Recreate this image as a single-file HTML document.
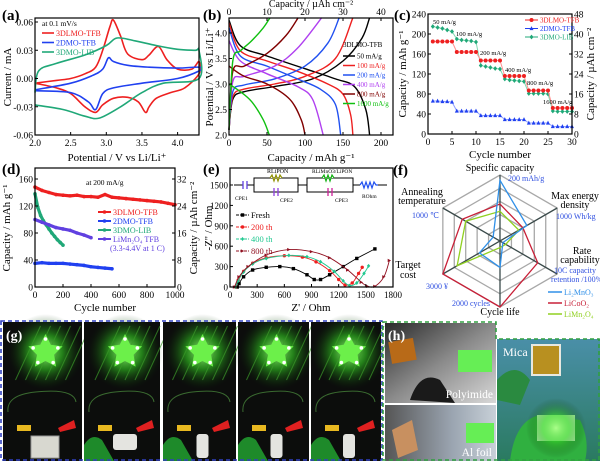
<!DOCTYPE html>
<html><head><meta charset="utf-8"><style>
html,body{margin:0;padding:0;background:#fff;}
svg{display:block;font-family:"Liberation Serif",serif;}
</style></head><body>
<svg id="fig" width="600" height="461" viewBox="0 0 600 461" xmlns="http://www.w3.org/2000/svg">
<defs>
<radialGradient id="glow" cx="50%" cy="50%" r="50%"><stop offset="0" stop-color="#aaff88" stop-opacity="0.95"/><stop offset="0.45" stop-color="#33cc22" stop-opacity="0.6"/><stop offset="1" stop-color="#0a2a08" stop-opacity="0"/></radialGradient>
<linearGradient id="grayph" x1="0" y1="0" x2="1" y2="1"><stop offset="0" stop-color="#2a2a2a"/><stop offset="0.5" stop-color="#8a8a8a"/><stop offset="1" stop-color="#d8d8d8"/></linearGradient>
<linearGradient id="grayph2" x1="0" y1="0" x2="1" y2="0"><stop offset="0" stop-color="#555"/><stop offset="0.6" stop-color="#9aa4b0"/><stop offset="1" stop-color="#c8d0d8"/></linearGradient>
<linearGradient id="micaph" x1="0" y1="0" x2="0" y2="1"><stop offset="0" stop-color="#4a8fa8"/><stop offset="1" stop-color="#2a7a60"/></linearGradient>
</defs>
</svg>
<script>
// ---------- DATA ----------
// (a) CV
const cvRedV=[2.0,2.3,2.5,2.7,2.85,2.95,3.05,3.1,3.2,3.3,3.5,3.6,3.73,3.85,4.0,4.2,4.3];
const cvRedI=[-0.005,-0.002,0.0,0.005,0.012,0.03,0.055,0.062,0.045,0.026,0.02,0.025,0.034,0.02,0.01,0.01,0.018];
const cvRedRV=[4.3,4.1,3.9,3.7,3.6,3.55,3.45,3.3,3.1,2.95,2.85,2.7,2.5,2.3,2.0];
const cvRedRI=[0.005,-0.01,-0.015,-0.021,-0.03,-0.036,-0.025,-0.02,-0.021,-0.028,-0.036,-0.03,-0.016,-0.01,-0.005];
const cvBlueV=[2.0,2.5,2.8,2.95,3.03,3.1,3.3,3.6,4.0,4.3];
const cvBlueI=[-0.012,-0.005,0.003,0.01,0.022,0.018,0.014,0.012,0.011,0.012];
const cvBlueRV=[4.3,4.0,3.5,3.1,2.95,2.85,2.75,2.5,2.0];
const cvBlueRI=[0.008,0.0,-0.005,-0.01,-0.016,-0.033,-0.025,-0.015,-0.013];
const cvGreenV=[2.0,2.05,2.3,2.7,3.0,3.15,3.4,3.7,4.0,4.25,4.3];
const cvGreenI=[-0.015,0.008,0.016,0.025,0.035,0.043,0.04,0.035,0.031,0.03,0.03];
const cvGreenRV=[4.3,3.8,3.5,3.2,2.9,2.7,2.4,2.0];
const cvGreenRI=[0.0,-0.005,-0.015,-0.03,-0.042,-0.04,-0.033,-0.028];
// (b) charge / discharge
const rateLabels=["50 mA/g","100 mA/g","200 mA/g","400 mA/g","800 mA/g","1600 mA/g"];
const disCap=[[0,15,50,100,140,165,180,185],[0,15,50,90,130,150,160,163],[0,15,50,90,120,140,147],[0,15,50,90,110,124],[0,20,50,80,95,100],[0,15,30,45,53]];
const disV=[[4.25,3.75,3.55,3.3,3.1,2.95,2.5,2.0],[4.2,3.65,3.45,3.25,3.0,2.8,2.4,2.0],[4.1,3.55,3.35,3.1,2.9,2.6,2.0],[3.85,3.45,3.2,2.95,2.7,2.0],[3.35,3.15,3.0,2.7,2.3,2.0],[3.0,2.85,2.65,2.3,2.0]];
const chgCap=[[0,5,20,60,110,150,175,185],[0,5,20,60,100,140,163],[0,5,20,60,100,130,145],[0,5,20,60,90,122],[0,5,20,50,75,91],[0,5,15,30,45,54]];
const chgV=[[2.1,2.7,2.85,2.95,3.1,3.45,3.9,4.3],[2.1,2.75,2.9,3.0,3.15,3.5,4.3],[2.1,2.85,2.98,3.1,3.35,3.8,4.3],[2.1,3.05,3.15,3.35,3.7,4.3],[2.1,3.25,3.35,3.6,3.95,4.3],[2.1,3.45,3.65,3.85,4.1,4.3]];
// (c) rate
const rateCycles=[1,2,3,4,5,6,7,8,9,10,11,12,13,14,15,16,17,18,19,20,21,22,23,24,25,26,27,28,29,30];
const rate3DLMO=[185,185,185,185,185,164,164,164,164,164,147,147,147,147,147,116,116,116,116,116,87,87,87,87,87,52,52,52,52,52];
const rate2DMO=[66,66,65,65,64,46,46,46,46,46,37,37,37,37,37,29,29,29,29,29,22,22,22,22,22,15,15,15,15,15];
const rate3DMO=[215,213,211,208,205,190,188,187,186,184,137,135,133,131,130,110,108,107,106,105,81,81,81,81,80,46,45,45,45,45];
const rateNotes=["50 mA/g","100 mA/g","200 mA/g","400 mA/g","800 mA/g","1600 mA/g"];
// (d) cycling
const cycRedX=[0,50,100,150,200,250,300,350,400,450,500,550,600,650,700,750,800,850,900,950,1000];
const cycRedY=[148,143,140,137,136,135,136,134,134,133,137,133,132,131,130,129,128,127,126,124,122];
const cycBlueX=[0,50,100,150,200,250,300,350,400,450,500,550];
const cycBlueY=[35,36,35,35,35,34,33,32,30,29,28,27];
const cycGreenX=[0,20,40,60,80,100,120,140,160,180,200];
const cycGreenY=[138,118,106,98,92,86,80,75,70,66,62];
const cycVioX=[0,50,100,150,200,250,300,350,400];
const cycVioY=[100,96,92,88,86,84,80,77,73];
// (e) EIS
const eisFreshX=[80,100,150,250,400,550,700,850,930,1000,1100,1250,1400,1600];
const eisFreshY=[0,50,150,250,290,300,270,180,110,110,180,300,420,560];
const eis200X=[60,90,150,250,400,600,800,950,1100,1200,1270,1350,1420,1460];
const eis200Y=[0,100,230,350,430,460,440,370,240,110,30,60,200,290];
const eis400X=[60,90,150,250,400,650,850,1000,1150,1250,1320,1400,1480,1530];
const eis400Y=[0,90,220,340,420,465,445,370,230,90,20,60,200,310];
const eis800X=[50,100,200,400,650,900,1100,1300,1450,1520,1600,1700,1760];
const eis800Y=[0,150,300,470,550,520,430,250,70,10,10,150,390];
// (f) radar
const radarAxes=["Specific capacity","Max energy density","Rate capability","Cycle life","Target cost","Annealing temperature"];
const radarLi2MnO3=[0.92,0.47,0.05,0.4,0.36,0.12];
const radarLiCoO2=[0.56,0.4,0.66,1.0,1.0,0.66];
const radarLiMn2O4=[0.45,0.33,0.1,0.1,0.75,0.6];

// ---------- HELPERS ----------
const NS='http://www.w3.org/2000/svg';
const svg=document.getElementById('fig');
function el(tag,attrs,name,parent){
  const e=document.createElementNS(NS,tag);
  for(const k in attrs)e.setAttribute(k,attrs[k]);
  
  
  (parent||svg).appendChild(e);return e;
}
function txt(x,y,s,size,name,opt){
  opt=opt||{};
  const t=el('text',{x:x,y:y,'font-size':size,fill:opt.fill||'#000','text-anchor':opt.anchor||'start','font-weight':opt.bold?'bold':'normal'},name,opt.parent);
  if(opt.rot!==undefined)t.setAttribute('transform','rotate('+opt.rot+' '+x+' '+y+')');
  t.textContent=s;return t;
}
function sc(d0,d1,r0,r1){return v=>r0+(v-d0)*(r1-r0)/(d1-d0);}
function smooth(p){
  let d='M'+p[0][0].toFixed(1)+','+p[0][1].toFixed(1);
  for(let i=0;i<p.length-1;i++){
    const p0=p[i-1]||p[i],p1=p[i],p2=p[i+1],p3=p[i+2]||p2;
    const c1=[p1[0]+(p2[0]-p0[0])/6,p1[1]+(p2[1]-p0[1])/6],c2=[p2[0]-(p3[0]-p1[0])/6,p2[1]-(p3[1]-p1[1])/6];
    d+=' C'+c1[0].toFixed(1)+','+c1[1].toFixed(1)+' '+c2[0].toFixed(1)+','+c2[1].toFixed(1)+' '+p2[0].toFixed(1)+','+p2[1].toFixed(1);
  }
  return d;
}
function frame(x0,y0,x1,y1,name){el('rect',{x:x0,y:y0,width:x1-x0,height:y1-y0,fill:'none',stroke:'#000','stroke-width':1.2},name);}
function xTicks(vals,sx,y,labels,dir,name,fs){vals.forEach((v,i)=>{el('line',{x1:sx(v),x2:sx(v),y1:y,y2:y+dir*3,stroke:'#000','stroke-width':1},name+'-tick');txt(sx(v),dir<0?y+11:y-4,labels[i],fs||9.5,name+'-label',{anchor:'middle'});});}
function yTicks(vals,sy,x,labels,dir,name,fs){vals.forEach((v,i)=>{el('line',{x1:x,x2:x+dir*3,y1:sy(v),y2:sy(v),stroke:'#000','stroke-width':1},name+'-tick');txt(dir>0?x-2:x+2,sy(v)+3.5,labels[i],fs||9.5,name+'-label',{anchor:dir>0?'end':'start'});});}
function marker(type,x,y,c,s,name){
  if(type==='c')el('circle',{cx:x,cy:y,r:s,fill:c},name);
  else if(type==='t')el('polygon',{points:`${x},${y-s*1.2} ${x-s},${y+s*0.8} ${x+s},${y+s*0.8}`,fill:c},name);
  else if(type==='d')el('polygon',{points:`${x},${y-s*1.2} ${x+s},${y} ${x},${y+s*1.2} ${x-s},${y}`,fill:c},name);
  else if(type==='s')el('rect',{x:x-s,y:y-s,width:2*s,height:2*s,fill:c},name);
  else if(type==='r')el('polygon',{points:`${x-s},${y-s} ${x+s},${y} ${x-s},${y+s}`,fill:c},name);
}

// ---------- PANEL A ----------
(function(){
  const sx=sc(2.0,4.3,35,199),sy=sc(-0.06,0.06,135,22);
  txt(2,20,'(a)',15,'panel-a-label',{bold:true});
  const series=[[cvRedV,cvRedI,cvRedRV,cvRedRI,'#ee2020','cv-3dlmo-tfb'],[cvBlueV,cvBlueI,cvBlueRV,cvBlueRI,'#2040f0','cv-2dmo-tfb'],[cvGreenV,cvGreenI,cvGreenRV,cvGreenRI,'#20a878','cv-3dmo-lib']];
  series.forEach(s=>{
    const pts=s[0].map((v,i)=>[sx(v),sy(s[1][i])]).concat(s[2].map((v,i)=>[sx(v),sy(s[3][i])]));
    el('path',{d:smooth(pts),fill:'none',stroke:s[4],'stroke-width':1.6},s[5]);
  });
  frame(35,18,199,135,'panel-a-frame');
  xTicks([2.0,2.5,3.0,3.5,4.0],sx,135,['2.0','2.5','3.0','3.5','4.0'],-1,'a-x');
  yTicks([0.06,0.03,0,-0.03,-0.06],sy,35,['0.06','0.03','0.00','-0.03','-0.06'],1,'a-y');
  txt(117,161,'Potential / V vs Li/Li⁺',11,'a-x-title',{anchor:'middle'});
  txt(11,77,'Current / mA',11,'a-y-title',{anchor:'middle',rot:-90});
  txt(42,26,'at 0.1 mV/s',7.5,'a-scan-rate-note');
  [['3DLMO-TFB','#ee2020'],['2DMO-TFB','#2040f0'],['3DMO-LIB','#20a878']].forEach((l,i)=>{
    el('line',{x1:42,x2:54,y1:33+i*9.5,y2:33+i*9.5,stroke:l[1],'stroke-width':1.6},'a-legend-line');
    txt(56,36+i*9.5,l[0],8,'a-legend-entry',{fill:l[1]});
  });
})();

// ---------- PANEL B ----------
(function(){
  const sx=sc(0,50,229,267),sy=sc(2.0,4.0,135,33);
  const cols=['#000','#ee2020','#2050f0','#b040f0','#800000','#10c010'];
  txt(203,20,'(b)',15,'panel-b-label',{bold:true});
  for(let r=0;r<6;r++){
    el('path',{d:smooth(disCap[r].map((c,i)=>[sx(c),sy(disV[r][i])])),fill:'none',stroke:cols[r],'stroke-width':1.4},'discharge-curve');
    el('path',{d:smooth(chgCap[r].map((c,i)=>[sx(c),sy(chgV[r][i])])),fill:'none',stroke:cols[r],'stroke-width':1.4},'charge-curve');
  }
  frame(229,18,393,135,'panel-b-frame');
  xTicks([0,50,100,150,200],sx,135,['0','50','100','150','200'],-1,'b-x');
  yTicks([2.0,2.5,3.0,3.5,4.0],sy,229,['2.0','2.5','3.0','3.5','4.0'],1,'b-y');
  const sxt=sc(0,10,229,267);
  [0,10,20,30,40].forEach(v=>{el('line',{x1:sxt(v),x2:sxt(v),y1:18,y2:21,stroke:'#000'},'b-top-tick');txt(sxt(v),15,String(v),9.5,'b-top-label',{anchor:'middle'});});
  txt(311,7,'Capacity / µAh cm⁻²',10,'b-top-title',{anchor:'middle'});
  txt(311,161,'Capacity / mAh g⁻¹',11,'b-x-title',{anchor:'middle'});
  txt(213,77,'Potential / V vs Li/Li⁺',11,'b-y-title',{anchor:'middle',rot:-90});
  txt(343,47,'3DLMO-TFB',7,'b-legend-title');
  rateLabels.forEach((l,i)=>{
    el('line',{x1:343,x2:355,y1:56+i*9.5,y2:56+i*9.5,stroke:cols[i],'stroke-width':1.5},'b-legend-line');
    txt(357,58.5+i*9.5,l,7,'b-legend-entry',{fill:cols[i]});
  });
})();

// ---------- PANEL C ----------
(function(){
  const sx=sc(0,30,428,572),sy=sc(0,240,134,14);
  txt(394,20,'(c)',15,'panel-c-label',{bold:true});
  const ser=[[rate3DMO,'#20a878','d','rate-3dmo-lib','#80d8b0'],[rate3DLMO,'#ee2020','c','rate-3dlmo-tfb','#ff9090'],[rate2DMO,'#2040f0','t','rate-2dmo-tfb','#90a0ff']];
  ser.forEach(s=>{
    el('polyline',{points:rateCycles.map((c,i)=>sx(c)+','+sy(s[0][i])).join(' '),fill:'none',stroke:s[4],'stroke-width':1},s[3]+'-line');
    rateCycles.forEach((c,i)=>marker(s[2],sx(c),sy(s[0][i]),s[1],2,s[3]+'-point'));
  });
  frame(428,14,572,134,'panel-c-frame');
  xTicks([0,5,10,15,20,25,30],sx,134,['0','5','10','15','20','25','30'],-1,'c-x');
  yTicks([0,40,80,120,160,200,240],sy,428,['0','40','80','120','160','200','240'],1,'c-y');
  const syr=sc(0,48,134,14);
  yTicks([0,8,16,24,32,40,48],syr,572,['0','8','16','24','32','40','48'],-1,'c-y-right');
  txt(500,158,'Cycle number',11,'c-x-title',{anchor:'middle'});
  txt(406,74,'Capacity / mAh g⁻¹',11,'c-y-title',{anchor:'middle',rot:-90});
  txt(594,74,'Capacity / µAh cm⁻²',11,'c-y-right-title',{anchor:'middle',rot:-90});
  const nx=[[433,24],[456,36],[480,55],[505,72],[527,85],[543,104]];
  rateNotes.forEach((n,i)=>txt(nx[i][0],nx[i][1],n,6.5,'c-rate-annotation'));
  [['3DLMO-TFB','#ee2020','c'],['2DMO-TFB','#2040f0','t'],['3DMO-LIB','#20a878','d']].forEach((l,i)=>{
    el('line',{x1:525,x2:538,y1:20+i*8.5,y2:20+i*8.5,stroke:l[1],'stroke-width':1},'c-legend-line');
    marker(l[2],531.5,20+i*8.5,l[1],2,'c-legend-marker');
    txt(540,22.5+i*8.5,l[0],7,'c-legend-entry',{fill:l[1]});
  });
})();

// ---------- PANEL D ----------
(function(){
  const sx=sc(0,1000,35,175),sy=sc(0,160,287,179);
  txt(2,174,'(d)',15,'panel-d-label',{bold:true});
  const ser=[[cycRedX,cycRedY,'#ee2020','cycling-3dlmo-tfb'],[cycBlueX,cycBlueY,'#2040f0','cycling-2dmo-tfb'],[cycGreenX,cycGreenY,'#20a878','cycling-3dmo-lib'],[cycVioX,cycVioY,'#6040e0','cycling-limn2o4-tfb']];
  ser.forEach(s=>{
    el('polyline',{points:s[0].map((c,i)=>sx(c)+','+sy(s[1][i])).join(' '),fill:'none',stroke:s[2],'stroke-width':3.2,'stroke-linejoin':'round'},s[3]);
    s[0].forEach((c,i)=>marker('c',sx(c),sy(s[1][i]),s[2],1.8,s[3]+'-point'));
  });
  frame(35,168,175,287,'panel-d-frame');
  xTicks([0,200,400,600,800,1000],sx,287,['0','200','400','600','800','1000'],-1,'d-x');
  yTicks([0,40,80,120,160],sy,35,['0','40','80','120','160'],1,'d-y');
  const syr=sc(0,32,287,179);
  yTicks([0,8,16,24,32],syr,175,['0','8','16','24','32'],-1,'d-y-right');
  txt(105,311,'Cycle number',11,'d-x-title',{anchor:'middle'});
  txt(10,228,'Capacity / mAh g⁻¹',11,'d-y-title',{anchor:'middle',rot:-90});
  txt(197,228,'Capacity / µAh cm⁻²',11,'d-y-right-title',{anchor:'middle',rot:-90});
  txt(86,185,'at 200 mA/g',7.5,'d-current-note');
  [['3DLMO-TFB','#ee2020'],['2DMO-TFB','#2040f0'],['3DMO-LIB','#20a878'],['LiMn₂O₄ TFB','#6040e0']].forEach((l,i)=>{
    el('line',{x1:98,x2:111,y1:212+i*9,y2:212+i*9,stroke:l[1],'stroke-width':2},'d-legend-line');
    marker('c',104.5,212+i*9,l[1],1.8,'d-legend-marker');
    txt(113,215+i*9,l[0],8,'d-legend-entry',{fill:l[1]});
  });
  txt(110,251,'(3.3-4.4V at 1 C)',8,'d-legend-note',{fill:'#6040e0'});
})();

// ---------- PANEL E ----------
(function(){
  const sx=sc(0,1800,230,393),sy=sc(0,1500,287,185);
  txt(203,174,'(e)',15,'panel-e-label',{bold:true});
  const ser=[[eisFreshX,eisFreshY,'#000','s','eis-fresh'],[eis200X,eis200Y,'#ee2020','c','eis-200th'],[eis400X,eis400Y,'#20c890','d','eis-400th'],[eis800X,eis800Y,'#901020','r','eis-800th']];
  ser.forEach(s=>{
    el('path',{d:smooth(s[0].map((x,i)=>[sx(x),sy(s[1][i])])),fill:'none',stroke:s[2],'stroke-width':0.9},s[4]);
    s[0].forEach((x,i)=>marker(s[3],sx(x),sy(s[1][i]),s[2],1.7,s[4]+'-point'));
  });
  frame(230,168,393,287,'panel-e-frame');
  xTicks([0,300,600,900,1200,1500,1800],sx,287,['0','300','600','900','1200','1500','1800'],-1,'e-x',9);
  yTicks([0,300,600,900,1200,1500],sy,230,['0','300','600','900','1200','1500'],1,'e-y',9);
  txt(311,311,"Z' / Ohm",11,'e-x-title',{anchor:'middle'});
  txt(212,228,"-Z'' / Ohm",11,'e-y-title',{anchor:'middle',rot:-90});
  // circuit
  const g=el('g',{},'equivalent-circuit');
  el('path',{d:'M234,185 H243 M247,185 H254 M254,178 H298 V192 H254 Z M298,185 H307 M307,178 H353 V192 H307 Z M353,185 H360 M378,185 H387',fill:'none',stroke:'#000','stroke-width':1},'circuit-wires',g);
  el('path',{d:'M243,181 V189 M247,181 V189',stroke:'#6040e0','stroke-width':1.3},'cpe1',g);
  el('path',{d:'M270,178 l2,-3 2,6 2,-6 2,6 2,-6 2,3',fill:'#fff',stroke:'#909000','stroke-width':1.2},'r-lipon',g);
  el('path',{d:'M274,188 V196 M278,188 V196',stroke:'#9040e0','stroke-width':1.3},'cpe2',g);
  el('path',{d:'M322,178 l2,-3 2,6 2,-6 2,6 2,-6 2,3',fill:'#fff',stroke:'#10b010','stroke-width':1.2},'r-interface',g);
  el('path',{d:'M328,188 V196 M332,188 V196',stroke:'#d0209a','stroke-width':1.3},'cpe3',g);
  el('path',{d:'M360,185 l2,-3 2,6 2,-6 2,6 2,-6 2,6 2,-6 2,3 h2',fill:'none',stroke:'#2050f0','stroke-width':1.2},'r-ohm',g);
  txt(267,173,'RLiPON',6,'r-lipon-label',{parent:g});
  txt(312,173,'RLiMnO3/LiPON',5.5,'r-interface-label',{parent:g});
  txt(235,200,'CPE1',5.5,'cpe1-label',{parent:g});
  txt(280,202,'CPE2',5.5,'cpe2-label',{parent:g});
  txt(335,202,'CPE3',5.5,'cpe3-label',{parent:g});
  txt(362,198,'ROhm',5.5,'r-ohm-label',{parent:g});
  [['Fresh','#000','s'],['200 th','#ee2020','c'],['400 th','#20c890','d'],['800 th','#901020','r']].forEach((l,i)=>{
    el('line',{x1:236,x2:249,y1:215+i*12,y2:215+i*12,stroke:l[1],'stroke-width':1,'stroke-dasharray':'3,1'},'e-legend-line');
    marker(l[2],242.5,215+i*12,l[1],1.7,'e-legend-marker');
    txt(251,218+i*12,l[0],8.5,'e-legend-entry',{fill:l[1]});
  });
})();

// ---------- PANEL F ----------
(function(){
  const cx=500,cy=241,R=66;
  txt(393,175,'(f)',15,'panel-f-label',{bold:true});
  const ang=i=>-Math.PI/2+i*Math.PI/3;
  const pt=(i,f)=>[cx+R*f*Math.cos(ang(i)),cy+R*f*Math.sin(ang(i))];
  [0.2,0.4,0.6,0.8,1].forEach(f=>el('polygon',{points:[0,1,2,3,4,5].map(i=>pt(i,f).join(',')).join(' '),fill:'none',stroke:'#a8a8a8','stroke-width':1.3},'radar-grid-ring'));
  [0,1,2].forEach(i=>{const a=pt(i,1),b=pt(i+3,1);el('line',{x1:a[0],y1:a[1],x2:b[0],y2:b[1],stroke:'#3a4a4a','stroke-width':1.3},'radar-spoke');});
  [[radarLiCoO2,'#c82038','radar-licoo2'],[radarLiMn2O4,'#90d020','radar-limn2o4'],[radarLi2MnO3,'#3090e8','radar-li2mno3']].forEach(s=>{
    el('polygon',{points:s[0].map((v,i)=>pt(i,v).join(',')).join(' '),fill:'none',stroke:s[1],'stroke-width':1.3},s[2]);
  });
  const B='#3050e0';
  txt(500,171,'Specific capacity',10,'radar-axis-specific-capacity',{anchor:'middle'});
  txt(508,181,'200 mAh/g',8,'radar-max-specific-capacity',{fill:B});
  txt(575,199,'Max energy',10,'radar-axis-energy-density',{anchor:'middle'});
  txt(575,208,'density',10,'radar-axis-energy-density-2',{anchor:'middle'});
  txt(556,219,'1000 Wh/kg',8,'radar-max-energy',{fill:B});
  txt(582,254,'Rate',10,'radar-axis-rate',{anchor:'middle'});
  txt(580,263,'capability',10,'radar-axis-rate-2',{anchor:'middle'});
  txt(554,273,'10C capacity',8,'radar-max-rate',{fill:B});
  txt(551,282,'retention /100%',8,'radar-max-rate-2',{fill:B});
  txt(500,315,'Cycle life',10,'radar-axis-cycle-life',{anchor:'middle'});
  txt(452,306,'2000 cycles',8,'radar-max-cycle',{fill:B});
  txt(408,268,'Target',10,'radar-axis-cost',{anchor:'middle'});
  txt(408,278,'cost',10,'radar-axis-cost-2',{anchor:'middle'});
  txt(426,289,'3000 ¥',8,'radar-max-cost',{fill:B});
  txt(422,195,'Annealing',10,'radar-axis-annealing',{anchor:'middle'});
  txt(422,204,'temperature',10,'radar-axis-annealing-2',{anchor:'middle'});
  txt(412,218,'1000 ℃',8,'radar-max-annealing',{fill:B});
  [['Li₂MnO₃','#3090e8'],['LiCoO₂','#c82038'],['LiMn₂O₄','#90d020']].forEach((l,i)=>{
    el('line',{x1:548,x2:562,y1:292+i*11,y2:292+i*11,stroke:l[1],'stroke-width':1.5},'f-legend-line');
    txt(564,295+i*11,l[0],8,'f-legend-entry',{fill:l[1]});
  });
})();

// ---------- PHOTOS ----------
(function(){
  const xs=[[3,82],[84,160],[163,236],[238,309],[311,381]];
  xs.forEach((p,k)=>{
    const g=el('g',{},'led-photo-'+(k+1));
    const w=p[1]-p[0],mx=(p[0]+p[1])/2+3;
    el('rect',{x:p[0],y:322,width:w,height:139,fill:'#0c0d0c'},'photo-background',g);
    el('circle',{cx:mx,cy:352,r:38,fill:'url(#glow)'},'led-glow',g);
    for(let j=0;j<6;j++)el('line',{x1:mx-30+j*10,y1:380,x2:mx-5+j*10,y2:326,stroke:'#3c9a2a','stroke-width':1,opacity:0.7},'light-streak',g);
    const s=[];for(let j=0;j<10;j++){const r=j%2?9:18,a=-Math.PI/2+j*Math.PI/5;s.push((mx+r*Math.cos(a)).toFixed(1)+','+(352+r*Math.sin(a)).toFixed(1));}
    el('polygon',{points:s.join(' '),fill:'#6cf04a'},'led-star',g);
    for(let j=0;j<5;j++){const a=-Math.PI/2+j*2*Math.PI/5;el('circle',{cx:mx+13*Math.cos(a),cy:352+13*Math.sin(a),r:1.8,fill:'#fff'},'led-dot',g);}
    el('path',{d:`M${p[0]+5},${412} Q${p[0]+3},${395} ${mx-10},${392} Q${p[1]-8},${388} ${p[1]-6},${402}`,fill:'none',stroke:'#3a6a30','stroke-width':1},'wire',g);
    el('rect',{x:p[0]+14,y:425,width:14,height:6,fill:'#e8b820'},'yellow-clip',g);
    el('polygon',{points:`${p[1]-24},${428} ${p[1]-8},${420} ${p[1]-6},${428} ${p[1]-22},${432}`,fill:'#e02020'},'red-clip',g);
    if(k===0)el('rect',{x:p[0]+28,y:436,width:28,height:22,fill:'#d8d8d0',stroke:'#999'},'battery-flat',g);
    else{
      el('path',{d:`M${p[0]},461 V445 Q${p[0]+8},432 ${p[0]+18},440 L${p[0]+30},461 Z`,fill:'#1e8a2a'},'glove',g);
      el('rect',{x:mx-(k===1?12:6),y:434,width:k===1?24:12,height:k===1?16:24,rx:3,fill:'#e4e4e0'},'battery-bent',g);
    }
  });
  el('rect',{x:1,y:321,width:381,height:139,fill:'none',stroke:'#3040c0','stroke-width':1.6,'stroke-dasharray':'4,3'},'panel-g-border');
  txt(6,340,'(g)',14,'panel-g-label',{bold:true,fill:'#fff'});
  // h
  el('rect',{x:385,y:323,width:111,height:80,fill:'url(#grayph)'},'polyimide-photo');
  el('rect',{x:390,y:340,width:25,height:22,fill:'#b86a18',transform:'rotate(-10 402 351)'},'polyimide-battery');
  el('rect',{x:458,y:350,width:34,height:22,fill:'#66ee55'},'polyimide-led');
  el('path',{d:'M410,400 Q420,370 440,380 L455,403 Z',fill:'#1a1a1a'},'polyimide-glove');
  txt(493,398,'Polyimide',11.5,'polyimide-label',{anchor:'end',fill:'#fff'});
  el('rect',{x:385,y:405,width:111,height:56,fill:'url(#grayph2)'},'al-foil-photo');
  el('polygon',{points:'392,430 412,420 418,450 398,458',fill:'#c89060'},'al-foil-battery');
  el('rect',{x:466,y:423,width:28,height:20,fill:'#66ee55'},'al-foil-led');
  txt(492,456,'Al foil',11.5,'al-foil-label',{anchor:'end',fill:'#fff'});
  el('rect',{x:497,y:339,width:103,height:122,fill:'url(#micaph)'},'mica-photo');
  el('rect',{x:532,y:345,width:28,height:30,fill:'#b89020',stroke:'#e8e8e0','stroke-width':2},'mica-battery');
  el('path',{d:'M497,380 Q515,360 530,380 L520,405 L497,400 Z',fill:'#2a8a40'},'mica-glove-top');
  el('path',{d:'M510,461 Q515,420 540,415 L580,420 Q590,440 585,461 Z',fill:'#30b040'},'mica-glove-bottom');
  el('rect',{x:537,y:415,width:38,height:26,fill:'#b8ffb0'},'mica-led');
  el('circle',{cx:556,cy:428,r:30,fill:'url(#glow)'},'mica-glow');
  txt(503,356,'Mica',12,'mica-label',{fill:'#fff'});
  el('path',{d:'M383,322 H496 V339 H599 V460 H383 Z',fill:'none',stroke:'#30a040','stroke-width':1.6,'stroke-dasharray':'4,3'},'panel-h-border');
  txt(388,340,'(h)',14,'panel-h-label',{bold:true,fill:'#fff'});
})();
</script>
</body></html>
